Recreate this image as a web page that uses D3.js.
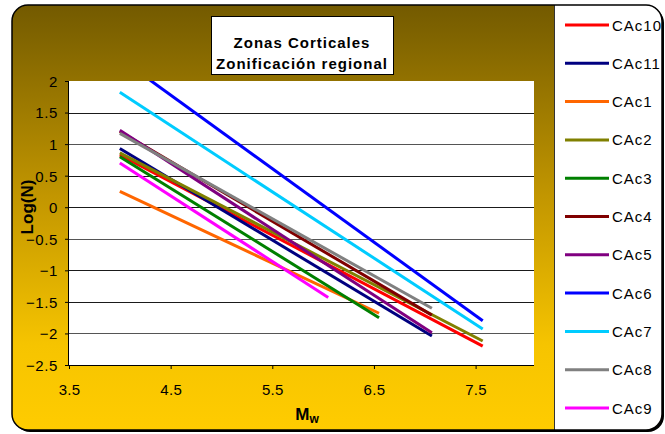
<!DOCTYPE html>
<html><head><meta charset="utf-8">
<script src="https://cdn.jsdelivr.net/npm/d3@7"></script>
<style>body{margin:0;background:#fff}svg{display:block}text{font-family:Arial,"Liberation Sans",sans-serif}</style>
</head><body><div id="chart"></div>
<script>
const seriesNames = ["CAc10","CAc11","CAc1","CAc2","CAc3","CAc4","CAc5","CAc6","CAc7","CAc8","CAc9"];
const seriesColors = ["#ff0000","#000080","#ff6600","#808000","#008000","#800000","#800080","#0000ff","#00ccff","#808080","#ff00ff"];
const mwStart = [4.0,4.0,4.0,4.0,4.0,4.0,4.0,4.0,4.0,4.0,4.0];
const mwEnd   = [7.57,7.07,6.55,7.57,6.55,7.07,7.07,7.57,7.57,7.07,6.05];
const logNStart = [0.83,0.93,0.25,0.86,0.80,1.20,1.22,2.36,1.82,1.17,0.70];
const logNEnd   = [-2.20,-2.04,-1.68,-2.12,-1.75,-1.71,-1.99,-1.80,-1.93,-1.60,-1.43];
const xTicks = [3.5,4.5,5.5,6.5,7.5];
const yTicks = [2,1.5,1,0.5,0,-0.5,-1,-1.5,-2,-2.5];
const gridValues = [1.5,1,0.5,0,-0.5,-1,-1.5,-2];

const W = 665, H = 434;
const svg = d3.select("#chart").append("svg").attr("width", W).attr("height", H);
const defs = svg.append("defs");
const grad = defs.append("linearGradient").attr("id","bg").attr("x1",0).attr("y1",0).attr("x2",0).attr("y2",1);
grad.append("stop").attr("offset","0%").attr("stop-color","#735a00");
grad.append("stop").attr("offset","45%").attr("stop-color","#c29600");
grad.append("stop").attr("offset","80%").attr("stop-color","#f6c400");
grad.append("stop").attr("offset","100%").attr("stop-color","#ffcc00");

const outer = {x:12, y:5, w:650, h:425, r:16};
defs.append("clipPath").attr("id","outerClip").append("rect")
  .attr("x",outer.x).attr("y",outer.y).attr("width",outer.w).attr("height",outer.h).attr("rx",outer.r);

svg.append("rect").attr("x",outer.x+2).attr("y",outer.y+2).attr("width",outer.w).attr("height",outer.h)
  .attr("rx",outer.r).attr("fill","#000");
svg.append("rect").attr("x",outer.x).attr("y",outer.y).attr("width",outer.w).attr("height",outer.h)
  .attr("rx",outer.r).attr("fill","url(#bg)");

const lg = svg.append("g").attr("clip-path","url(#outerClip)");
lg.append("rect").attr("x",554).attr("y",outer.y).attr("width",W-554).attr("height",outer.h).attr("fill","#fff");
lg.append("line").attr("x1",554.5).attr("x2",554.5).attr("y1",outer.y).attr("y2",outer.y+outer.h).attr("stroke","#333").attr("stroke-width",1);

svg.append("rect").attr("x",outer.x).attr("y",outer.y).attr("width",outer.w).attr("height",outer.h)
  .attr("rx",outer.r).attr("fill","none").attr("stroke","#000").attr("stroke-width",1.5);

const px0 = 69, px1 = 534, py0 = 81, py1 = 365;
const x = d3.scaleLinear().domain([3.5, 3.5 + (px1-px0)/101.65]).range([px0, px1]);
const y = d3.scaleLinear().domain([2,-2.5]).range([py0, py1]);

svg.append("rect").attr("x",px0).attr("y",py0).attr("width",px1-px0).attr("height",py1-py0).attr("fill","#fff");
defs.append("clipPath").attr("id","plotClip").append("rect").attr("x",px0).attr("y",py0).attr("width",px1-px0).attr("height",py1-py0);

svg.append("g").selectAll("line").data(gridValues).join("line")
  .attr("x1",px0).attr("x2",px1)
  .attr("y1",d=>Math.round(y(d))+0.5).attr("y2",d=>Math.round(y(d))+0.5)
  .attr("stroke",(d,i)=> i%3===1 ? "#555" : "#1a1a1a").attr("stroke-width",1);

const lineGen = d3.line().x(d=>x(d[0])).y(d=>y(d[1]));
const lines = svg.append("g").attr("clip-path","url(#plotClip)");
seriesNames.forEach((name,i)=>{
  const pts = [[mwStart[i], logNStart[i]],[mwEnd[i], logNEnd[i]]];
  lines.append("path").attr("d", lineGen(pts)).attr("fill","none")
    .attr("stroke", seriesColors[i]).attr("stroke-width",3);
});

const yAxis = d3.axisLeft(y).tickValues(yTicks).tickSize(4).tickFormat(d3.format("~g"));
const gy = svg.append("g").attr("transform",`translate(${px0},0)`).call(yAxis);
gy.attr("font-size",null).attr("font-family",null);
gy.select(".domain").attr("stroke","#000").attr("d",`M-0.5,${py0}V${py1}`);
gy.selectAll(".tick line").attr("stroke","#000");
gy.selectAll(".tick text").style("font-size","15px").attr("letter-spacing","0.6px").attr("fill","#000").attr("x",-11)
  .attr("dy","0.36em");

const xAxis = d3.axisBottom(x).tickValues(xTicks).tickSize(4).tickFormat(d3.format(".1f"));
const gx = svg.append("g").attr("transform",`translate(0,${py1})`).call(xAxis);
gx.attr("font-size",null).attr("font-family",null);
gx.select(".domain").attr("stroke","#000").attr("d",`M${px0},0.5H${px1}`);
gx.selectAll(".tick line").attr("stroke","#000");
gx.selectAll(".tick text").style("font-size","15px").attr("letter-spacing","0.3px").attr("fill","#000")
  .attr("y",0).attr("dy","30px");

const xt = svg.append("text").attr("x",307).attr("y",420).attr("text-anchor","middle")
  .attr("font-size",17).attr("font-weight","bold").attr("fill","#000");
xt.append("tspan").text("M");
xt.append("tspan").text("w").attr("font-size",12).attr("dy",3);

svg.append("text").attr("transform","translate(33,207) rotate(-90)").attr("text-anchor","middle")
  .attr("font-size",17).attr("font-weight","bold").attr("fill","#000").text("Log(N)");

svg.append("rect").attr("x",211.5).attr("y",16.5).attr("width",182).attr("height",58)
  .attr("fill","#fff").attr("stroke","#000").attr("stroke-width",1);
const tt = svg.append("text").attr("text-anchor","middle").attr("font-size",15)
  .attr("font-weight","bold").attr("fill","#000").attr("letter-spacing","1px");
tt.append("tspan").attr("x",302).attr("y",48).text("Zonas Corticales");
tt.append("tspan").attr("x",302).attr("y",69).text("Zonificación regional");

const leg = svg.append("g");
seriesNames.forEach((name,i)=>{
  const cy = 25 + i*38.3;
  leg.append("line").attr("x1",565).attr("x2",609).attr("y1",cy).attr("y2",cy)
    .attr("stroke",seriesColors[i]).attr("stroke-width",3);
  leg.append("text").attr("x",612).attr("y",cy+5.5).attr("font-size",15)
    .attr("letter-spacing","1px").attr("fill","#000").text(name);
});
</script></body></html>
